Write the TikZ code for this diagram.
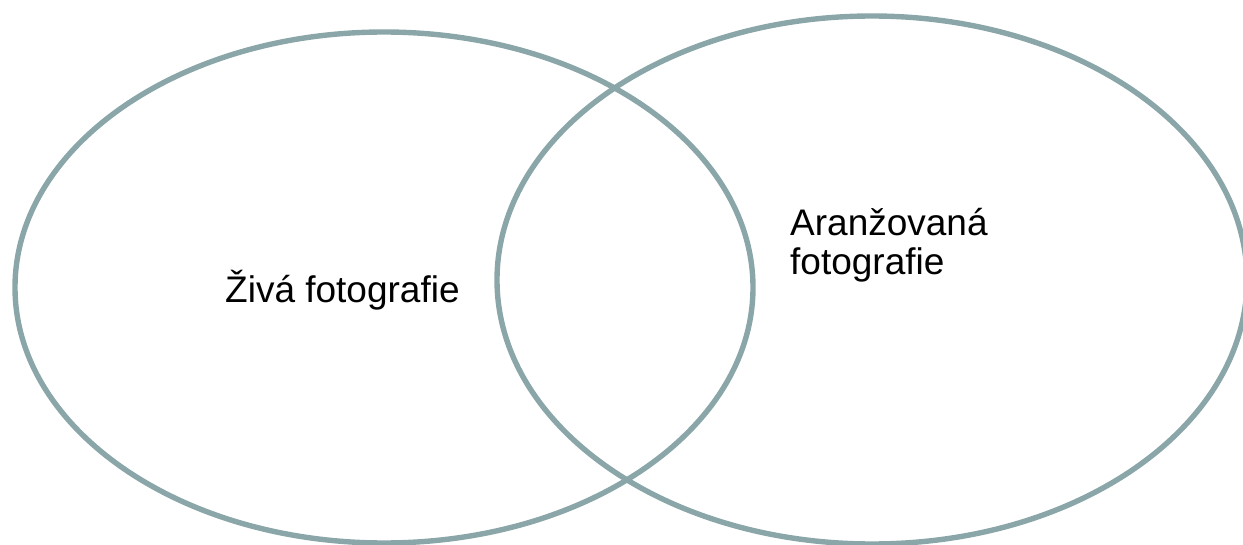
\documentclass[tikz,border=0pt]{standalone}
\usepackage{fontspec}
\setmainfont{Liberation Sans}
\usetikzlibrary{shapes.geometric}
\definecolor{vennline}{RGB}{138,166,168}

\begin{document}
\begin{tikzpicture}[x=1pt,y=-1pt,
    venn/.style={ellipse,draw=vennline,line width=5.4pt,inner sep=0pt,outer sep=0pt},
    label/.style={inner sep=0pt,font=\fontsize{37}{39}\selectfont,align=left}]
        % Frame
        \useasboundingbox (0,0) rectangle (1243,545);

        % Sets
        \node[venn,minimum width=738,minimum height=511] (live) at (384,287.5) {};
        \node[venn,minimum width=750,minimum height=528] (staged) at (872,280) {};

        % Labels
        \node[label,anchor=base west] (livetext) at (225,303) {Živá fotografie};
        \node[label,anchor=base west] (stagedtext) at (790,275) {Aranžovaná\\fotografie};

      \end{tikzpicture}
\end{document}
